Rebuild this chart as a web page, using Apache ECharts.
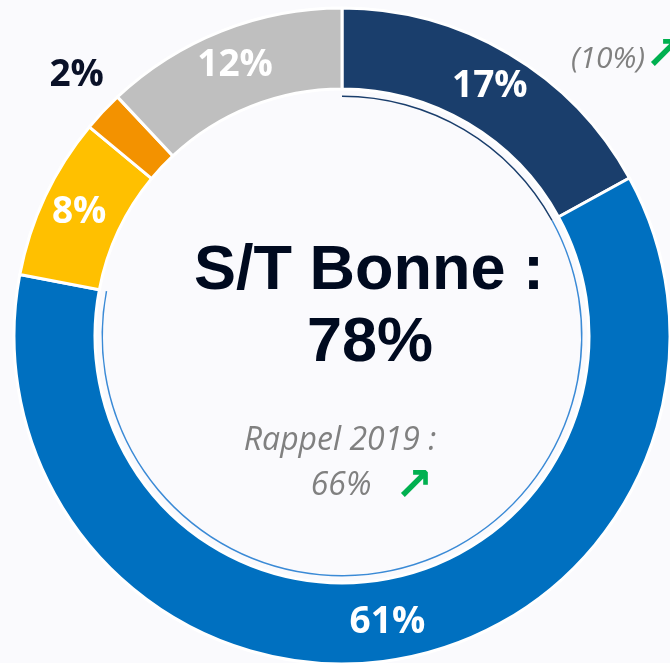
<!DOCTYPE html>
<html>
<head>
<meta charset="utf-8">
<script src="https://cdn.jsdelivr.net/npm/echarts@6/dist/echarts.min.js"></script>
<style>
html,body{margin:0;padding:0;background:#fafafd;}
#chart{width:670px;height:663px;}
</style>
</head>
<body>
<div id="chart"></div>
<script>
// Data
const categories = ['Très bonne', 'Bonne', 'Moyenne', 'Mauvaise', 'NSP'];
const values = [17, 61, 8, 2, 12];
const colors = ['#1a3e6c', '#0070c0', '#ffc000', '#f39200', '#bfbfbf'];
const labelColors = ['#ffffff', '#ffffff', '#ffffff', '#0a1128', '#ffffff'];
const summaryValues = [17, 61, 22];
const summaryColors = ['#1a3e6c', '#3a8ad6', 'rgba(0,0,0,0)'];
const centerTitle = 'S/T Bonne :';
const centerValue = '78%';
const recallText = 'Rappel 2019 :';
const recallValue = '66%';
const prevTopValue = '(10%)';

const chart = echarts.init(document.getElementById('chart'), null, {renderer: 'canvas'});

const mainData = categories.map((c, i) => {
  const item = {
    name: c,
    value: values[i],
    itemStyle: {color: colors[i]},
    label: {color: labelColors[i]}
  };
  if (i === 3) {
    item.label.position = 'outside';
    item.labelLine = {show: false, length: 0, length2: 0};
  }
  return item;
});

const option = {
  backgroundColor: '#fafafd',
  animation: false,
  series: [
    {
      type: 'pie',
      center: [342, 336],
      radius: [247, 328],
      startAngle: 90,
      clockwise: true,
      silent: true,
      avoidLabelOverlap: false,
      itemStyle: {borderColor: '#ffffff', borderWidth: 3},
      label: {
        show: true,
        position: 'inside',
        formatter: '{c}%',
        fontFamily: 'Open Sans',
        fontWeight: 'bold',
        fontSize: 37
      },
      labelLayout: function (p) {
        if (p.dataIndex === 3) return {dx: 6, dy: -36};
      },
      data: mainData
    },
    {
      type: 'pie',
      center: [342, 336],
      radius: [239, 240.5],
      startAngle: 90,
      clockwise: true,
      silent: true,
      label: {show: false},
      labelLine: {show: false},
      data: summaryValues.map((v, i) => ({value: v, itemStyle: {color: summaryColors[i]}}))
    }
  ],
  graphic: [
    {type: 'text', x: 369, y: 272, style: {text: centerTitle, font: 'bold 63px "Liberation Sans", Arial, sans-serif', fill: '#000a1f', align: 'center', verticalAlign: 'middle'}},
    {type: 'text', x: 370, y: 344, style: {text: centerValue, font: 'bold 63px "Liberation Sans", Arial, sans-serif', fill: '#000a1f', align: 'center', verticalAlign: 'middle'}},
    {type: 'text', x: 340, y: 441, style: {text: recallText, font: 'italic 32px "Open Sans", sans-serif', fill: '#808080', align: 'center', verticalAlign: 'middle'}},
    {type: 'text', x: 341, y: 486, style: {text: recallValue, font: 'italic 32px "Open Sans", sans-serif', fill: '#808080', align: 'center', verticalAlign: 'middle'}},
    {type: 'text', x: 414, y: 488, style: {text: '\u2197', font: 'bold 46px "DejaVu Sans", sans-serif', fill: '#00b050', align: 'center', verticalAlign: 'middle'}},
    {type: 'text', x: 608, y: 59, style: {text: prevTopValue, font: 'italic 30px "Open Sans", sans-serif', fill: '#808080', align: 'center', verticalAlign: 'middle'}},
    {type: 'text', x: 664, y: 57, style: {text: '\u2197', font: 'bold 46px "DejaVu Sans", sans-serif', fill: '#00b050', align: 'center', verticalAlign: 'middle'}}
  ]
};
chart.setOption(option);
</script>
</body>
</html>
